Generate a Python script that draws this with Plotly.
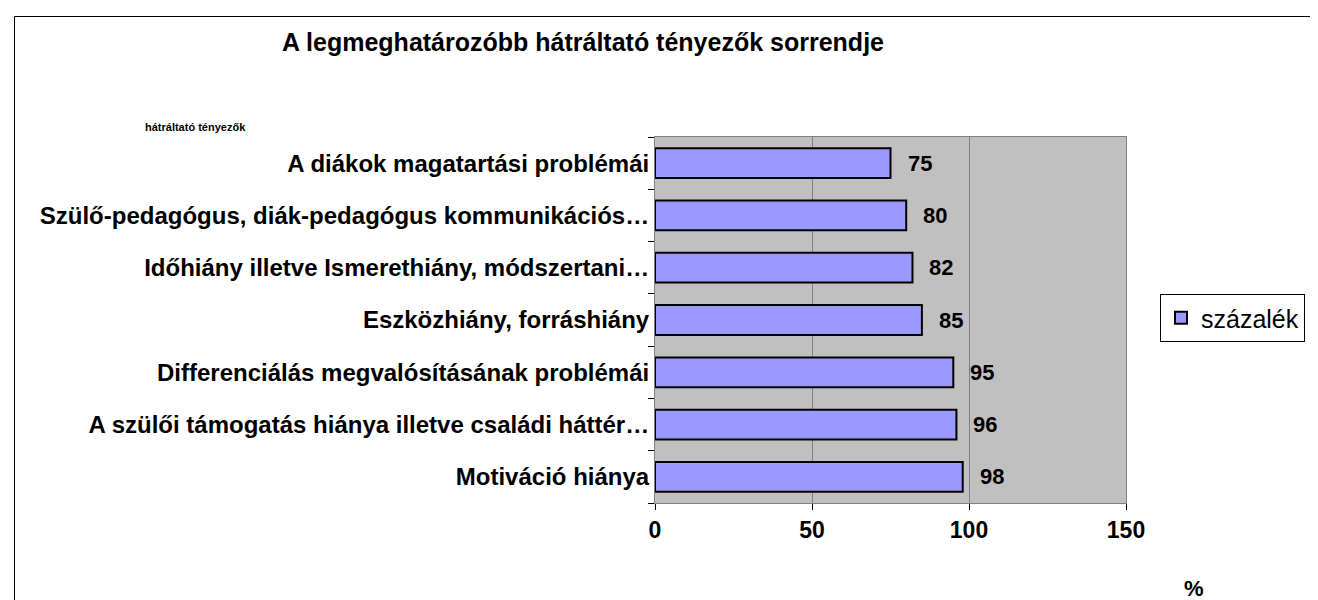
import plotly.graph_objects as go

categories = [
    "A diákok magatartási problémái",
    "Szülő-pedagógus, diák-pedagógus kommunikációs…",
    "Időhiány illetve Ismerethiány, módszertani…",
    "Eszközhiány, forráshiány",
    "Differenciálás megvalósításának problémái",
    "A szülői támogatás hiánya illetve családi háttér…",
    "Motiváció hiánya",
]
values = [75, 80, 82, 85, 95, 96, 98]
series_name = "százalék"
x_ticks = [0, 50, 100, 150]

FONT = "Liberation Sans, Arial, sans-serif"
W, H = 1318, 600
L, R, T, B = 647, 1118, 129, 495

fig = go.Figure()
fig.add_trace(go.Bar(
    x=values, y=categories, orientation="h", name=series_name,
    marker=dict(color="#9999FF", line=dict(color="#000000", width=2)),
    showlegend=True,
))

for v, c in zip(values, categories):
    fig.add_annotation(x=v, y=c, xref="x", yref="y", text=f"<b>{v}</b>",
                       showarrow=False, xanchor="left", yanchor="middle", xshift=15,
                       font=dict(family=FONT, size=22, color="#000"))

def px_x(p):
    return (p - L) / (R - L)

def px_y(p):
    return (B - p) / (B - T)

fig.add_annotation(x=px_x(187), y=px_y(119), xref="paper", yref="paper",
                   text="<b>hátráltató tényezők</b>", showarrow=False,
                   xanchor="center", yanchor="middle",
                   font=dict(family=FONT, size=11, color="#000"))
fig.add_annotation(x=px_x(1186), y=px_y(580), xref="paper", yref="paper",
                   text="<b>%</b>", showarrow=False,
                   xanchor="center", yanchor="middle",
                   font=dict(family=FONT, size=22, color="#000"))

fig.add_shape(type="rect", xref="paper", yref="paper",
              x0=px_x(6.5), x1=px_x(1400), y0=px_y(700), y1=px_y(8.5),
              line=dict(color="#000", width=1), fillcolor="rgba(0,0,0,0)", layer="above")

fig.update_layout(
    width=W, height=H,
    margin=dict(l=L, r=W - R, t=T, b=H - B, pad=0),
    paper_bgcolor="white", plot_bgcolor="#C0C0C0",
    bargap=0.43,
    title=dict(text="<b>A legmeghatározóbb hátráltató tényezők sorrendje</b>",
               x=575 / W, xanchor="center", y=1 - 34 / H, yanchor="middle",
               xref="container", yref="container",
               font=dict(family=FONT, size=25, color="#000")),
    legend=dict(x=px_x(1152), y=px_y(310), xanchor="left", yanchor="middle",
                bordercolor="#000", borderwidth=1, bgcolor="white",
                font=dict(family=FONT, size=25, color="#000"),
                itemwidth=30),
    showlegend=True,
)
fig.update_xaxes(range=[0, 150], tickvals=x_ticks,
                 ticktext=[f"<b>{t}</b>" for t in x_ticks],
                 showgrid=True, gridcolor="#808080", gridwidth=1,
                 showline=True, linecolor="#808080", linewidth=1, mirror=True,
                 ticks="outside", ticklen=6, tickcolor="#000",
                 zeroline=False,
                 tickfont=dict(family=FONT, size=23, color="#000"))
fig.update_yaxes(autorange="reversed", type="category",
                 ticktext=[f"<b>{c}</b>" for c in categories], tickvals=categories,
                 showline=True, linecolor="#808080", linewidth=1, mirror=True,
                 ticks="outside", ticklen=6, tickcolor="#000", tickson="boundaries",
                 showgrid=False,
                 tickfont=dict(family=FONT, size=24, color="#000"))

fig.write_html("out.html")
